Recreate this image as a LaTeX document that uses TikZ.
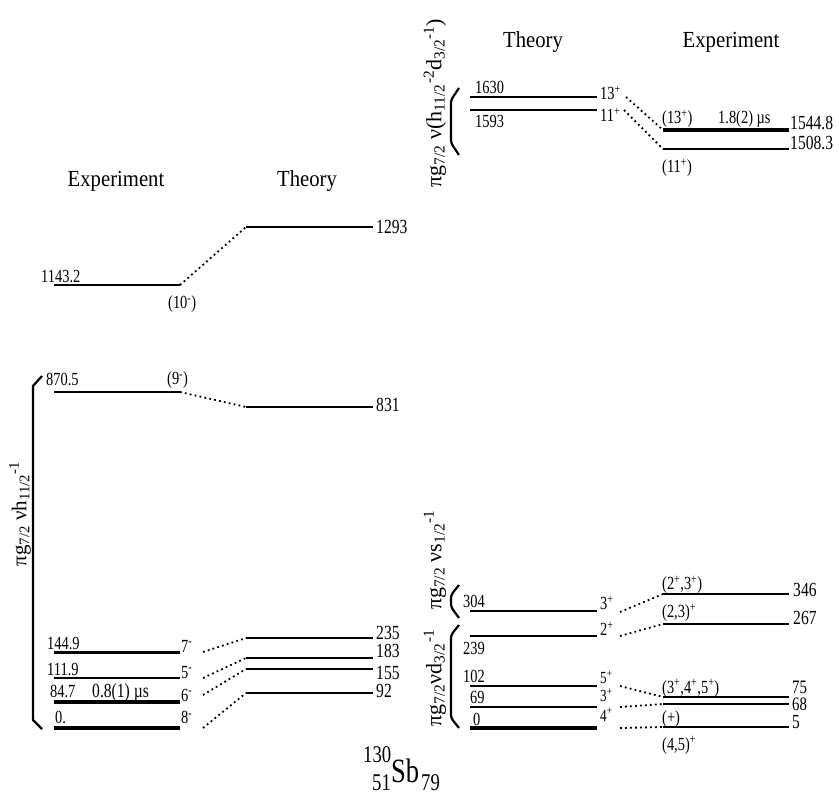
\documentclass[tikz,border=0pt]{standalone}
\usepackage{fontspec}
\setmainfont[FakeStretch=0.78]{Liberation Serif}
\newfontfamily\hdrfont[FakeStretch=0.9]{Liberation Serif}
\newfontfamily\rotfont{Liberation Serif}
\tikzset{
  lev/.style={line width=2.6pt},
  levthick/.style={line width=4.6pt},
  conn/.style={line width=1.8pt, dash pattern=on 1.8pt off 3.2pt},
  brk/.style={line width=2.2pt, rounded corners=3pt},
  lab/.style={inner sep=0pt, anchor=base west, font=\fontsize{18.5}{18.5}\selectfont},
  labs/.style={inner sep=0pt, anchor=base west, font=\fontsize{17}{17}\selectfont},
  labb/.style={inner sep=0pt, anchor=base west, font=\fontsize{20}{20}\selectfont},
  hdr/.style={inner sep=0pt, anchor=base, font=\hdrfont\fontsize{23}{23}\selectfont},
  rot/.style={inner sep=0pt, rotate=90, font=\rotfont\fontsize{22}{22}\selectfont},
}
\begin{document}
\begin{tikzpicture}[x=1pt,y=-1pt]
\useasboundingbox (0,0) rectangle (839,799);

% ---------------- left panel ----------------
\node[hdr] (hExpL) at (116,187) {Experiment};
\node[hdr] (hThL) at (307,187) {Theory};

% experiment levels
\coordinate (eA1) at (54,285);  \coordinate (eA2) at (180,285);
\coordinate (eB1) at (54,392);  \coordinate (eB2) at (180,392);
\coordinate (eC1) at (54,652.5);\coordinate (eC2) at (180,652.5);
\coordinate (eD1) at (54,678);  \coordinate (eD2) at (180,678);
\coordinate (eE1) at (54,702);  \coordinate (eE2) at (180,702);
\coordinate (eF1) at (54,728);  \coordinate (eF2) at (180,728);
\draw[lev] (eA1) -- (eA2);
\draw[lev] (eB1) -- (eB2);
\draw[lev] (eC1) -- (eC2);
\draw[lev] (eD1) -- (eD2);
\draw[levthick] (eE1) -- (eE2);
\draw[levthick] (eF1) -- (eF2);

% theory levels
\coordinate (tA1) at (246,227); \coordinate (tA2) at (373,227);
\coordinate (tB1) at (246,407); \coordinate (tB2) at (373,407);
\coordinate (tC1) at (246,638); \coordinate (tC2) at (373,638);
\coordinate (tD1) at (246,658); \coordinate (tD2) at (373,658);
\coordinate (tE1) at (246,669); \coordinate (tE2) at (373,669);
\coordinate (tF1) at (246,693); \coordinate (tF2) at (373,693);
\draw[lev] (tA1) -- (tA2);
\draw[lev] (tB1) -- (tB2);
\draw[lev] (tC1) -- (tC2);
\draw[lev] (tD1) -- (tD2);
\draw[lev] (tE1) -- (tE2);
\draw[lev] (tF1) -- (tF2);

% connectors
\coordinate (dC) at (203,652);
\coordinate (dD) at (203,678);
\coordinate (dE) at (203,695);
\coordinate (dF) at (203,728);
\draw[conn] (eA2) -- (tA1);
\draw[conn] (eB2) -- (tB1);
\draw[conn] (dC) -- (tC1);
\draw[conn] (dD) -- (tD1);
\draw[conn] (dE) -- (tE1);
\draw[conn] (dF) -- (tF1);

% labels
\node[lab] (l1143) at (41,283) {1143.2};
\node[lab] (l870) at (46,386) {870.5};
\node[lab] (l144) at (47,649) {144.9};
\node[lab] (l111) at (47,675) {111.9};
\node[lab] (l84) at (50,698) {84.7};
\node[lab, font=\fontsize{20}{20}\selectfont] (l08) at (92,698) {0.8(1) µs};
\node[lab] (l0) at (55,723) {0.};
\node[lab] (s10) at (168,309) {(10\textsuperscript{-})};
\node[lab] (s9) at (167,385) {(9\textsuperscript{-})};
\node[lab] (s7) at (181,652) {7\textsuperscript{-}};
\node[lab] (s5) at (181,678) {5\textsuperscript{-}};
\node[lab] (s6) at (181,701) {6\textsuperscript{-}};
\node[lab] (s8) at (181,724) {8\textsuperscript{-}};
\node[labb] (l1293) at (376,234) {1293};
\node[labb] (l831) at (376,412) {831};
\node[labb] (l235) at (376,640) {235};
\node[labb] (l183) at (376,658) {183};
\node[labb] (l155) at (376,679) {155};
\node[labb] (l92) at (376,697) {92};

% bracket
\coordinate (bL1) at (42,376);
\coordinate (bL2) at (33,386);
\coordinate (bL3) at (33,720);
\coordinate (bL4) at (42,729);
\draw[line width=2.2pt] (bL1) -- (bL2) -- (bL3) -- (bL4);
\node[rot, font=\rotfont\fontsize{21}{21}\selectfont] (rL) at (20,514) {πg\textsubscript{7/2} νh\textsubscript{11/2}\textsuperscript{-1}};

% title
\node[inner sep=0pt, anchor=base west, font=\fontsize{24}{24}\selectfont] (tt130) at (363,762) {130};
\node[inner sep=0pt, anchor=base west, font=\fontsize{24}{24}\selectfont] (tt51) at (372,790) {51};
\node[inner sep=0pt, anchor=base west, font=\fontsize{34}{34}\selectfont] (ttSb) at (391,782) {Sb};
\node[inner sep=0pt, anchor=base west, font=\fontsize{24}{24}\selectfont] (tt79) at (421,790) {79};

% ---------------- right panel ----------------
\node[hdr] (hThR) at (533,48) {Theory};
\node[hdr] (hExpR) at (731,48) {Experiment};

% theory levels
\coordinate (rtA1) at (470,97);  \coordinate (rtA2) at (597,97);
\coordinate (rtB1) at (470,110); \coordinate (rtB2) at (597,110);
\coordinate (rtC1) at (470,611); \coordinate (rtC2) at (597,611);
\coordinate (rtD1) at (470,636); \coordinate (rtD2) at (597,636);
\coordinate (rtE1) at (470,686); \coordinate (rtE2) at (597,686);
\coordinate (rtF1) at (470,707); \coordinate (rtF2) at (597,707);
\coordinate (rtG1) at (470,728); \coordinate (rtG2) at (597,728);
\draw[lev] (rtA1) -- (rtA2);
\draw[lev] (rtB1) -- (rtB2);
\draw[lev] (rtC1) -- (rtC2);
\draw[lev] (rtD1) -- (rtD2);
\draw[lev] (rtE1) -- (rtE2);
\draw[lev] (rtF1) -- (rtF2);
\draw[levthick] (rtG1) -- (rtG2);

% experiment levels
\coordinate (reA1) at (663,130); \coordinate (reA2) at (789,130);
\coordinate (reB1) at (663,149); \coordinate (reB2) at (789,149);
\coordinate (reC1) at (663,594); \coordinate (reC2) at (789,594);
\coordinate (reD1) at (663,624); \coordinate (reD2) at (789,624);
\coordinate (reE1) at (663,697); \coordinate (reE2) at (789,697);
\coordinate (reF1) at (663,704); \coordinate (reF2) at (789,704);
\coordinate (reG1) at (663,727); \coordinate (reG2) at (789,727);
\draw[levthick] (reA1) -- (reA2);
\draw[lev] (reB1) -- (reB2);
\draw[lev] (reC1) -- (reC2);
\draw[lev] (reD1) -- (reD2);
\draw[lev] (reE1) -- (reE2);
\draw[lev] (reF1) -- (reF2);
\draw[lev] (reG1) -- (reG2);

% connectors
\coordinate (rdA) at (626,97);
\coordinate (rdB) at (624,110);
\coordinate (rdC) at (620,612);
\coordinate (rdD) at (620,636);
\coordinate (rdE) at (620,686);
\coordinate (rdF) at (620,707);
\coordinate (rdG) at (620,728);
\draw[conn] (rdA) -- (reA1);
\draw[conn] (rdB) -- (reB1);
\draw[conn] (rdC) -- (reC1);
\draw[conn] (rdD) -- (reD1);
\draw[conn] (rdE) -- (reE1);
\draw[conn] (rdF) -- (reF1);
\draw[conn] (rdG) -- (reG1);

% labels theory
\node[lab] (r1630) at (475,94) {1630};
\node[lab] (r1593) at (475,128) {1593};
\node[lab] (rs13) at (600,100) {13\textsuperscript{+}};
\node[lab] (rs11) at (600,122) {11\textsuperscript{+}};
\node[lab] (r304) at (463,608) {304};
\node[lab] (r239) at (463,655) {239};
\node[lab] (r102) at (463,682) {102};
\node[lab] (r69) at (470,703) {69};
\node[lab] (r0) at (473,725) {0};
\node[lab] (rs3a) at (600,610) {3\textsuperscript{+}};
\node[lab] (rs2) at (600,636) {2\textsuperscript{+}};
\node[labs] (rs5) at (600,684) {5\textsuperscript{+}};
\node[labs] (rs3b) at (600,702) {3\textsuperscript{+}};
\node[labs] (rs4) at (600,721) {4\textsuperscript{+}};

% labels experiment
\node[lab] (rx13) at (662,124) {(13\textsuperscript{+})};
\node[lab] (rxt) at (718,124) {1.8(2) µs};
\node[labb] (rx1544) at (790,130) {1544.8};
\node[labb] (rx1508) at (790,150) {1508.3};
\node[lab] (rx11) at (662,173) {(11\textsuperscript{+})};
\node[lab] (rx23a) at (662,590) {(2\textsuperscript{+},3\textsuperscript{+})};
\node[lab] (rx23b) at (662,618) {(2,3)\textsuperscript{+}};
\node[lab] (rx345) at (662,693) {(3\textsuperscript{+},4\textsuperscript{+},5\textsuperscript{+})};
\node[lab] (rxp) at (662,723) {(+)};
\node[lab] (rx45) at (662,750) {(4,5)\textsuperscript{+}};
\node[labb] (rx346) at (793,597) {346};
\node[labb] (rx267) at (793,625) {267};
\node[labb, font=\fontsize{19}{19}\selectfont] (rx75) at (792,693) {75};
\node[labb, font=\fontsize{19}{19}\selectfont] (rx68) at (792,710) {68};
\node[labb] (rx5) at (792,728) {5};

% brackets
\coordinate (bA1) at (459,88);  \coordinate (bA2) at (451,100);
\coordinate (bA3) at (451,143); \coordinate (bA4) at (459,155);
\draw[brk] (bA1) -- (bA2) -- (bA3) -- (bA4);
\coordinate (bB1) at (459,585); \coordinate (bB2) at (451,595);
\coordinate (bB3) at (451,607); \coordinate (bB4) at (459,618);
\draw[brk] (bB1) -- (bB2) -- (bB3) -- (bB4);
\coordinate (bC1) at (459,625); \coordinate (bC2) at (451,635);
\coordinate (bC3) at (451,718); \coordinate (bC4) at (459,728);
\draw[brk] (bC1) -- (bC2) -- (bC3) -- (bC4);

\node[rot] (rA) at (435,103) {πg\textsubscript{7/2} ν(h\textsubscript{11/2}\textsuperscript{-2}d\textsubscript{3/2}\textsuperscript{-1})};
\node[rot] (rB) at (435,560) {πg\textsubscript{7/2} νs\textsubscript{1/2}\textsuperscript{-1}};
\node[rot] (rC) at (435,678) {πg\textsubscript{7/2}νd\textsubscript{3/2}\textsuperscript{-1}};
\end{tikzpicture}
\end{document}
